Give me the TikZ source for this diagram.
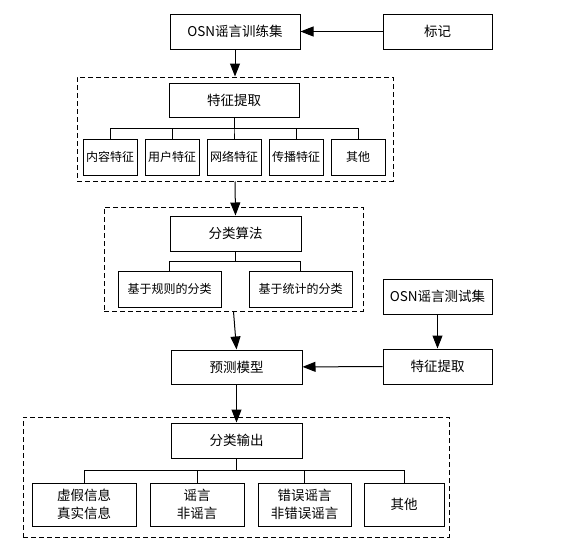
\documentclass[tikz,border=0pt]{standalone}
\usepackage{fontspec}
\newfontfamily\cjk{Noto Sans CJK SC}
\usetikzlibrary{arrows.meta}

\tikzset{
  box/.style={draw, line width=1pt, minimum height=35pt, inner sep=2pt, align=center, font=\cjk\fontsize{13.5}{18}\selectfont},
  smallbox/.style={box, minimum height=36pt, font=\cjk\fontsize{12}{15}\selectfont},
  group/.style={draw, line width=1pt, dash pattern=on 5pt off 3pt, inner sep=0pt},
  arr/.style={line width=1pt, -{Triangle[length=13pt,width=10pt]}},
  bus/.style={line width=1pt}
}

\begin{document}
\begin{tikzpicture}[x=1pt, y=-1pt]
\useasboundingbox (0,0) rectangle (568,546);
% dashed groups
\node[group, minimum width=316pt, minimum height=104pt] (grp1) at (235,129) {};
\node[group, minimum width=259pt, minimum height=104pt] (grp2) at (233.5,259) {};
\node[group, minimum width=426pt, minimum height=120pt] (grp3) at (236,477) {};
% training set
\node[box, minimum width=130pt] (train) at (235,31.5) {OSN谣言训练集};
\node[box, minimum width=109pt] (mark) at (437.5,31.5) {标记};
% feature extraction
\node[box, minimum width=130pt, minimum height=34pt] (feat) at (234,100) {特征提取};
\node[smallbox, minimum width=54pt] (content) at (110,157) {内容特征};
\node[smallbox, minimum width=54pt] (user) at (172,157) {用户特征};
\node[smallbox, minimum width=54pt] (net) at (234,157) {网络特征};
\node[smallbox, minimum width=54pt] (spread) at (296,157) {传播特征};
\node[smallbox, minimum width=54pt] (other1) at (358,157) {其他};
% classification algorithm
\node[box, minimum width=131pt] (algo) at (235.5,233.5) {分类算法};
\node[smallbox, minimum width=103pt] (rule) at (169.5,289) {基于规则的分类};
\node[smallbox, minimum width=103pt] (stat) at (300.5,289) {基于统计的分类};
% model and test set
\node[box, minimum width=131pt, minimum height=34pt] (model) at (236.5,367) {预测模型};
\node[box, minimum width=109pt] (test) at (437.5,296.5) {OSN谣言测试集};
\node[box, minimum width=109pt] (feat2) at (437.5,366.5) {特征提取};
% output
\node[box, minimum width=131pt] (out) at (236.5,440.5) {分类输出};
\node[box, minimum width=104pt, minimum height=43pt] (fake) at (84,504.5) {虚假信息\\真实信息};
\node[box, minimum width=94pt, minimum height=43pt] (rumor) at (197,504.5) {谣言\\非谣言};
\node[box, minimum width=93pt, minimum height=43pt] (wrong) at (304.5,504.5) {错误谣言\\非错误谣言};
\node[box, minimum width=80pt, minimum height=43pt] (other2) at (404,504.5) {其他};

% arrows
\draw[arr] (mark) -- (train);
\draw[arr] (train) -- (grp1.north);
\draw[arr] (grp1.south) -- (algo.north);
\draw[arr] (grp2.south) -- (model.north);
\draw[arr] (test) -- (feat2);
\draw[arr] (feat2) -- (model);
\draw[arr] (model) -- (out.north);

% buses
\foreach \c in {content,user,net,spread,other1}
  \draw[bus] (feat.south) -- ++(0,11) -| (\c.north);
\foreach \c in {rule,stat}
  \draw[bus] (algo.south) -- ++(0,10) -| (\c.north);
\foreach \c in {fake,rumor,wrong,other2}
  \draw[bus] (out.south) -- ++(0,12) -| (\c.north);
\end{tikzpicture}
\end{document}
